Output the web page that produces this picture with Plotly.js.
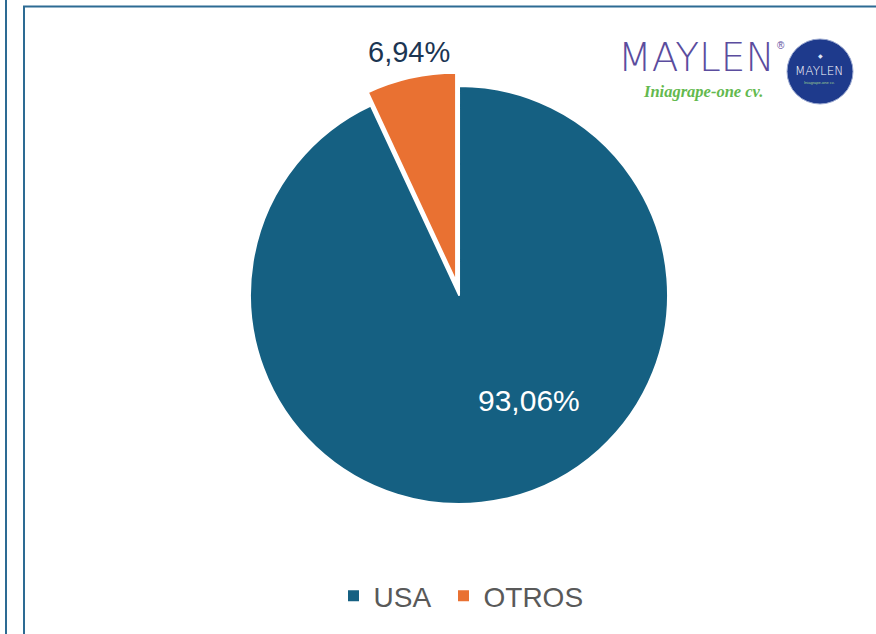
<!DOCTYPE html>
<html>
<head>
<meta charset="utf-8">
<script src="https://cdn.plot.ly/plotly-3.0.1.min.js"></script>
<style>html,body{margin:0;padding:0;background:#fff;}#chart{width:876px;height:634px;}</style>
</head>
<body>
<div id="chart"></div>
<script>
const categories = ['USA', 'OTROS'];
const values = [93.06, 6.94];
const sliceColors = ['#156082', '#E97132'];
const pulls = [0, 0.065];

const W = 876, H = 634;
const px = x => x / W;
const py = y => 1 - y / H;
const fmt = v => v.toFixed(2).replace('.', ',') + '%';

const FONT = 'Liberation Sans, Arial, sans-serif';

const pie = {
  type: 'pie',
  labels: categories,
  values: values,
  sort: false,
  direction: 'clockwise',
  rotation: 0,
  pull: pulls,
  marker: { colors: sliceColors, line: { color: '#ffffff', width: 2 } },
  textinfo: 'none',
  hoverinfo: 'skip',
  showlegend: false,
  domain: { x: [0.2699, 0.7781], y: [0.1836, 0.8858] }
};

// legend entries (one legend box per category, so spacing can match the reference)
const legendNames = ['legend', 'legend2'];
const legendTraces = categories.map((c, i) => ({
  type: 'scatter', mode: 'markers', x: [null], y: [null],
  name: c, legend: legendNames[i], showlegend: true, hoverinfo: 'skip',
  marker: { symbol: 'square', size: 11, color: sliceColors[i], line: { width: 0 } }
}));

const annotations = [
  { x: px(529), y: py(401), text: fmt(values[0]), font: { family: FONT, size: 30, color: '#ffffff' } },
  { x: px(409), y: py(52), text: fmt(values[1]), font: { family: FONT, size: 29, color: '#1B3552' } },
  // logo
  { x: px(696), y: py(57), text: 'MAYLEN', font: { family: 'DejaVu Sans, Liberation Sans, sans-serif', size: 39, weight: 200, color: '#5B4D9E' } },
  { x: px(781), y: py(46), text: '®', font: { family: FONT, size: 10, color: '#5B4D9E' } },
  { x: px(703), y: py(92), text: 'Iniagrape-one cv.', font: { family: 'Liberation Serif, serif', size: 16.5, color: '#63B94E', style: 'italic', weight: 700 } },
  { x: px(820), y: py(56), text: '◆', font: { family: FONT, size: 6, color: '#dfe6f5' } },
  { x: px(819), y: py(71), text: 'MAYLEN', font: { family: 'DejaVu Sans, Liberation Sans, sans-serif', size: 12, weight: 200, color: '#ffffff' } },
  { x: px(819), y: py(83), text: 'Iniagrape-one cv.', font: { family: FONT, size: 4, color: '#9fd08f' } }
].map(a => Object.assign({ xref: 'paper', yref: 'paper', showarrow: false, xanchor: 'center', yanchor: 'middle' }, a));

const shapes = [
  { type: 'line', xref: 'paper', yref: 'paper', x0: px(6), x1: px(6), y0: -0.05, y1: 1.05, line: { color: '#2D6B93', width: 2 } },
  { type: 'rect', xref: 'paper', yref: 'paper', x0: px(24), x1: 1.1, y0: -0.1, y1: py(6.5), line: { color: '#2D6B93', width: 2 }, fillcolor: 'rgba(0,0,0,0)' },
  { type: 'circle', xref: 'paper', yref: 'paper', x0: px(787), x1: px(853), y0: py(104), y1: py(39), fillcolor: '#1E3A8C', line: { color: '#9aa8d0', width: 1 } }
];

const legendStyle = x => ({
  orientation: 'h', x: x, xanchor: 'left', y: py(596), yanchor: 'middle',
  font: { family: FONT, size: 28, color: '#595959' },
  bgcolor: 'rgba(0,0,0,0)', itemclick: false
});

const layout = {
  width: W, height: H,
  margin: { l: 0, r: 0, t: 0, b: 0 },
  paper_bgcolor: '#ffffff',
  plot_bgcolor: '#ffffff',
  xaxis: { visible: false, fixedrange: true },
  yaxis: { visible: false, fixedrange: true },
  legend: legendStyle(px(333.5)),
  legend2: legendStyle(px(443.5)),
  annotations: annotations,
  shapes: shapes
};

Plotly.newPlot('chart', [pie].concat(legendTraces), layout, { displayModeBar: false, staticPlot: true });
</script>
</body>
</html>
